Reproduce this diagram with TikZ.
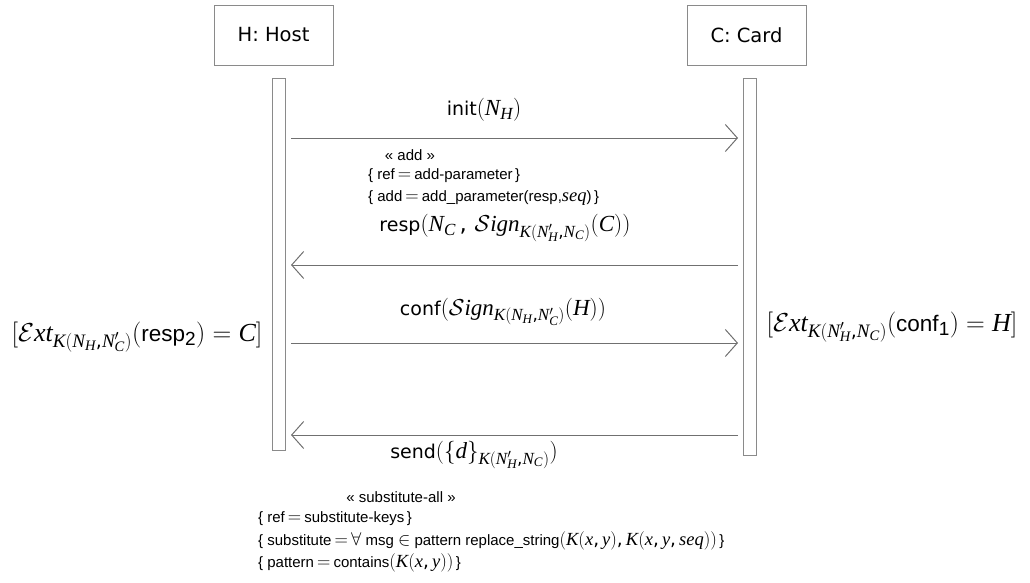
\RequirePackage{fix-cm}
\documentclass[tikz,border=0pt]{standalone}
\usepackage{fontspec}
\setmainfont{DejaVu Sans}
\newfontfamily\hv{Liberation Sans}
\newfontfamily\tmfam[NFSSFamily=libserif]{Liberation Serif}
\DeclareSymbolFont{letters}{TU}{libserif}{m}{it}
\DeclareSymbolFont{operators}{TU}{libserif}{m}{n}
\DeclareMathSizes{19}{23}{17}{13}
\DeclareMathSizes{22.5}{26}{19}{14.5}
\DeclareMathSizes{15}{18.5}{14}{11}
\AtBeginDocument{\mathcode`\,="602C \mathcode`\.="602E}
\usetikzlibrary{arrows.meta}
\definecolor{linegray}{HTML}{707070}
\definecolor{boxgray}{HTML}{8A8A8A}
\tikzset{
  lifebox/.style={draw=boxgray, line width=0.9pt, minimum width=119pt, minimum height=60pt, inner sep=0pt, font=\fontsize{19.5}{23}\selectfont},
  actbar/.style={draw=boxgray, line width=0.9pt, minimum width=13pt, inner sep=0pt},
  msg/.style={draw=linegray, line width=1pt, -{Straight Barb[length=12pt,width=27pt,line width=1pt]}},
  lbl/.style={inner sep=0pt, font=\fontsize{19}{23}\selectfont},
  stereo/.style={inner sep=0pt, font=\hv\fontsize{15}{18}\selectfont, anchor=west},
  guard/.style={inner sep=0pt, font=\hv\fontsize{22.5}{26}\selectfont}
}
\begin{document}
\begin{tikzpicture}[x=1pt,y=-1pt]
\useasboundingbox (0,0) rectangle (1030,583);
% lifelines
\node[lifebox] (host) at (273.5,35) {H: Host};
\node[lifebox] (card) at (746.5,35) {C: Card};
\node[actbar, minimum height=372pt] (hbar) at (279,264) {};
\node[actbar, minimum height=377pt] (cbar) at (749.5,266.5) {};
% message endpoints
\coordinate (m1s) at (291,138);  \coordinate (m1e) at (738,138);
\coordinate (m2s) at (738,265);  \coordinate (m2e) at (291,265);
\coordinate (m3s) at (291,343);  \coordinate (m3e) at (738,343);
\coordinate (m4s) at (738,435);  \coordinate (m4e) at (291,435);
\draw[msg] (m1s) -- (m1e);
\draw[msg] (m2s) -- (m2e);
\draw[msg] (m3s) -- (m3e);
\draw[msg] (m4s) -- (m4e);
% labels
\node[lbl] (l1) at (484,110) {init$(N_H)$};
\node[stereo, anchor=center] (s1) at (410,155) {« add »};
\node[stereo] (s2) at (368,176) {\{ ref$\,=\,$add-parameter\,\}};
\node[stereo] (s3) at (368,198) {\{ add$\,=\,$add\_parameter(resp,$seq$)\,\}};
\node[lbl] (l2) at (505,228) {resp$(N_C\,,\,\mathcal{S}ign_{K(N'_H,N_C)}(C))$};
\node[lbl] (l3) at (503,312) {conf$(\mathcal{S}ign_{K(N_H,N'_C)}(H))$};
\node[lbl] (l4) at (474,455) {send$(\{d\}_{K(N'_H,N_C)})$};
\node[guard] (g1) at (137,337) {$[\mathcal{E}xt_{K(N_H,N'_C)}(\hbox{resp\textsubscript{2}}) = C]$};
\node[guard] (g2) at (892,327) {$[\mathcal{E}xt_{K(N'_H,N_C)}(\hbox{conf\textsubscript{1}}) = H]$};
% bottom stereotype block
\node[stereo, anchor=center] (b0) at (401,497) {« substitute-all »};
\node[stereo] (b1) at (258,519) {\{ ref$\,=\,$substitute-keys\,\}};
\node[stereo] (b2) at (258,541) {\{ substitute$\,=\,$$\forall$ msg $\in$ pattern replace\_string$(K(x,y),K(x,y,seq))$\,\}};
\node[stereo] (b3) at (258,563) {\{ pattern$\,=\,$contains$(K(x,y))$\,\}};
\end{tikzpicture}
\end{document}
